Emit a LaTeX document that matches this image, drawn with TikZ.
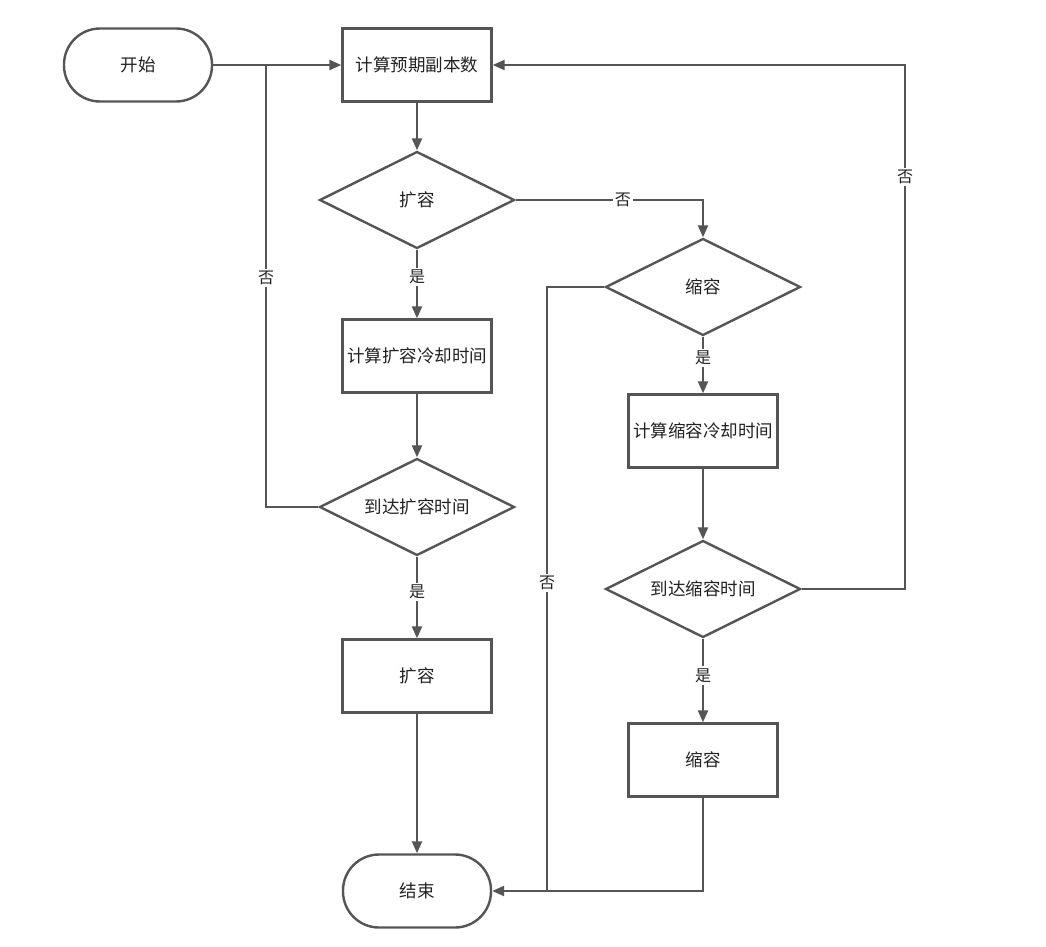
\documentclass[tikz,border=0pt]{standalone}
\usepackage{fontspec}
\setmainfont{Noto Sans CJK SC}
\usetikzlibrary{arrows.meta,shapes.geometric}
\definecolor{lc}{HTML}{555555}
\definecolor{tc}{HTML}{222222}
\newcommand{\zw}[1]{\makebox[0pt]{#1}}
\begin{document}
\begin{tikzpicture}[x=1pt,y=-1pt,
  every node/.style={font=\fontsize{17.5}{20}\selectfont, text=tc},
  base/.style={draw=lc, line width=2.4pt, fill=white, inner sep=0pt},
  term/.style={base, rectangle, rounded corners=36pt, minimum width=148pt, minimum height=73pt},
  proc/.style={base, rectangle, minimum width=149pt, minimum height=73pt},
  dec/.style={base, diamond, minimum width=195pt, minimum height=97pt},
  conn/.style={draw=lc, line width=2.4pt},
  arr/.style={conn, -{Triangle[length=12pt,width=10pt]}},
  lab/.style={fill=white, inner sep=2pt, font=\fontsize{16}{18}\selectfont}
]
\useasboundingbox (0,0) rectangle (1046,947);
\fill[white] (0,0) rectangle (1046,947);

\node[term] (start) at (138,65) {开始};
\node[proc] (calc) at (417,65) {计算预期副本数};
\node[dec] (d1) at (417,200) {\zw{扩容}};
\node[proc] (c1) at (417,356) {计算扩容冷却时间};
\node[dec] (r1) at (417,507) {\zw{到达扩容时间}};
\node[proc] (e1) at (417,676) {扩容};
\node[term] (end) at (417,891) {结束};
\node[dec] (d2) at (703,287) {\zw{缩容}};
\node[proc] (c2) at (703,431) {计算缩容冷却时间};
\node[dec] (r2) at (703,589) {\zw{到达缩容时间}};
\node[proc] (e2) at (703,760) {缩容};

\coordinate (j1) at (266,65);
\coordinate (j2) at (547,891);
\coordinate (k) at (905,589);

\draw[arr] (start.east) -- (calc.west);
\draw[conn] (r1.west) -| node[lab, pos=0.759] {否} (j1);
\draw[arr] (calc.south) -- (d1.north);
\draw[arr] (d1.east) -| node[lab, pos=0.286] {否} (d2.north);
\draw[arr] (d1.south) -- node[lab, pos=0.4] {是} (c1.north);
\draw[arr] (c1.south) -- (r1.north);
\draw[arr] (r1.south) -- node[lab, pos=0.43] {是} (e1.north);
\draw[arr] (e1.south) -- (end.north);
\draw[arr] (d2.south) -- node[lab, pos=0.37] {是} (c2.north);
\draw[arr] (c2.south) -- (r2.north);
\draw[arr] (r2.south) -- node[lab, pos=0.44] {是} (e2.north);
\draw[arr] (e2.south) |- (end.east);
\draw[conn] (d2.west) -| node[lab, pos=0.745] {否} (j2);
\draw[arr] (r2.east) -- (k) |- node[lab, pos=0.393] {否} (calc.east);
\end{tikzpicture}
\end{document}
